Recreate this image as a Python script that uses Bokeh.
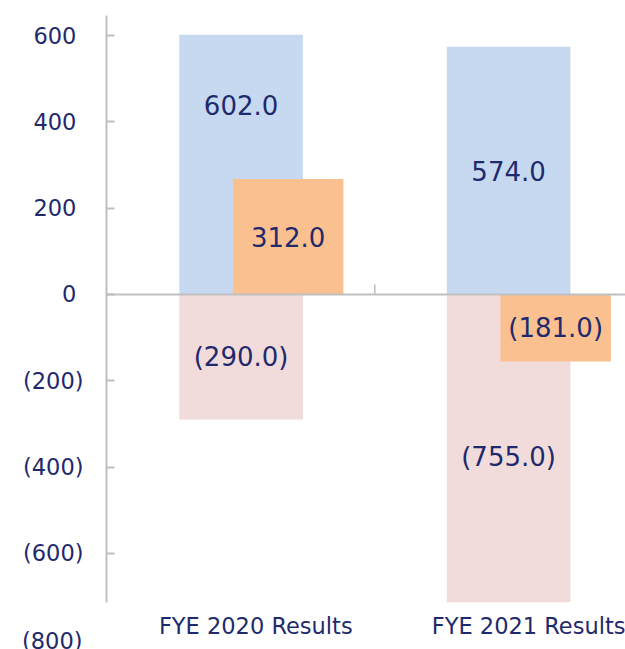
from bokeh.plotting import figure
from bokeh.models import Range1d, FixedTicker, Span, Title, ColumnDataSource
from bokeh.core.properties import value
from bokeh.embed import file_html
from bokeh.resources import INLINE

# ---- data ----
categories = ["FYE 2020 Results", "FYE 2021 Results"]
blue_values = [602.0, 574.0]
pink_values = [-290.0, -755.0]
orange_values = [312.0, -181.0]
y_ticks = [600, 400, 200, 0, -200, -400, -600, -800]
y_tick_labels = ["600", "400", "200", "0", "(200)", "(400)", "(600)", "(800)"]

# ---- style / layout ----
BLUE = "#C6D9F0"
PINK = "#F2DCDB"
ORANGE = "#FAC090"
NAVY = "#1F2A6C"
GRAY = "#BFBFBF"
FONT = "DejaVu Sans"

FRAME_W, FRAME_H = 519, 587
Y_MIN, Y_MAX = -714.0, 646.7
Y2_MIN, Y2_MAX = -831.3, 753.0
X_MIN, X_MAX = -0.003, 1.937
BLUE_W, ORANGE_W, ORANGE_SHIFT = 0.462, 0.413, 0.176
label_shift = [0.055, 0.13]
blue_label_frac = [0.73, 0.5]

def fmt(v):
    return f"({abs(v):.1f})" if v < 0 else f"{v:.1f}"

n = len(categories)
x_main = [i + 0.5 for i in range(n)]
x_orange = [x + ORANGE_SHIFT for x in x_main]

p = figure(frame_width=FRAME_W, frame_height=FRAME_H,
           x_range=Range1d(X_MIN, X_MAX), y_range=Range1d(Y_MIN, Y_MAX),
           min_border_left=106, min_border_right=0, min_border_top=15, min_border_bottom=47,
           output_backend="svg", toolbar_location=None)
p.extra_y_ranges = {"sec": Range1d(Y2_MIN, Y2_MAX)}
p.outline_line_color = None
p.xgrid.visible = False
p.ygrid.visible = False
p.background_fill_color = "white"
p.border_fill_color = "white"

# bars
p.vbar(x=x_main, bottom=0, top=blue_values, width=BLUE_W, fill_color=BLUE, line_color=None)
p.vbar(x=x_main, top=0, bottom=pink_values, width=BLUE_W, fill_color=PINK, line_color=None)
p.vbar(x=x_orange, bottom=0, top=orange_values, width=ORANGE_W, fill_color=ORANGE,
       line_color=None, y_range_name="sec")

# zero line and category boundary ticks
p.add_layout(Span(location=0, dimension="width", line_color=GRAY, line_width=2))
px_per_unit = FRAME_H / (Y_MAX - Y_MIN)
bounds = [float(i) for i in range(1, n)]
p.segment(x0=bounds, y0=[0] * len(bounds), x1=bounds, y1=[10 / px_per_unit] * len(bounds),
          line_color=GRAY, line_width=1.5)

# data labels
lab_common = dict(text_font=value(FONT), text_font_size="26px", text_color=NAVY,
                  text_align="center", text_baseline="middle")
src_blue = ColumnDataSource(dict(x=x_main, y=[v * f for v, f in zip(blue_values, blue_label_frac)],
                                 t=[fmt(v) for v in blue_values]))
src_pink = ColumnDataSource(dict(x=x_main, y=[v / 2 for v in pink_values],
                                 t=[fmt(v) for v in pink_values]))
src_orange = ColumnDataSource(dict(x=x_orange, y=[v / 2 for v in orange_values],
                                   t=[fmt(v) for v in orange_values]))
p.text(x="x", y="y", text="t", source=src_blue, **lab_common)
p.text(x="x", y="y", text="t", source=src_pink, **lab_common)
p.text(x="x", y="y", text="t", source=src_orange, y_range_name="sec", **lab_common)

# y axis
STANDOFF = 23
AX_FS = "22.5px"
ya = p.yaxis[0]
ya.ticker = FixedTicker(ticks=y_ticks)
ya.major_label_overrides = {t: (lab if t < 0 else lab + "\u2008") for t, lab in zip(y_ticks, y_tick_labels)}
ya.major_label_text_font = FONT
ya.major_label_text_font_size = AX_FS
ya.major_label_text_color = NAVY
ya.axis_line_color = GRAY
ya.axis_line_width = 2
ya.major_tick_line_color = GRAY
ya.major_tick_line_width = 2
ya.major_tick_in = 8
ya.major_tick_out = 0
ya.minor_tick_line_color = None
ya.major_label_standoff = STANDOFF

# x axis (category labels)
label_pos = [x + s for x, s in zip(x_main, label_shift)]
xa = p.xaxis[0]
xa.ticker = FixedTicker(ticks=label_pos)
xa.major_label_overrides = {pos: name for pos, name in zip(label_pos, categories)}
xa.axis_line_color = None
xa.major_tick_line_color = None
xa.minor_tick_line_color = None
xa.major_label_text_font = FONT
xa.major_label_text_font_size = AX_FS
xa.major_label_text_color = NAVY
xa.major_label_standoff = 4

# y tick labels lying below the visible range: placed in the bottom panel, left of the frame
for t, lab in zip(y_ticks, y_tick_labels):
    if t < Y_MIN:
        p.add_layout(Title(text=lab, align="left", vertical_align="top", offset=-84.5,
                           standoff=-28, text_font=FONT, text_font_size=AX_FS,
                           text_font_style="normal", text_color=NAVY), "below")

open("out.html", "w").write(file_html(p, INLINE))
